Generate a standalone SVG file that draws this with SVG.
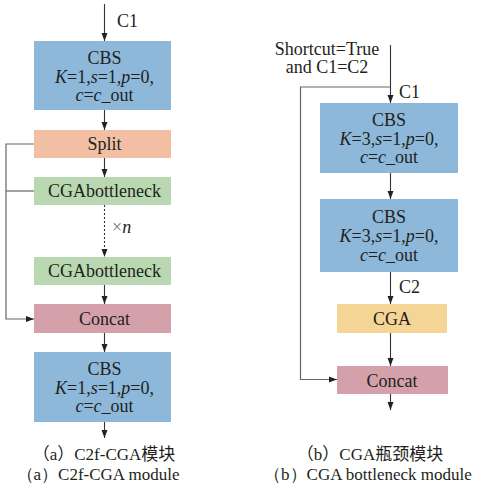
<svg xmlns="http://www.w3.org/2000/svg" width="482" height="488" viewBox="0 0 482 488" font-family="'Liberation Serif', 'Times New Roman', 'DejaVu Serif', serif">
  <style>
    text { fill: #231f20; }
    .t { font-size: 18px; text-anchor: middle; }
    .lbl { font-size: 18px; }
    .cap { font-size: 17px; text-anchor: middle; }
    .it { font-style: italic; }
    .cbs { fill: #8db8da; }
    .split { fill: #f2bfa4; }
    .bott { fill: #b9d7b1; }
    .cat { fill: #d4a1ab; }
    .cga { fill: #f5d595; }
    .ln { stroke: #333; stroke-width: 1.1; fill: none; }
    .side { stroke: #666; stroke-width: 1.2; fill: none; }
    .dot { stroke: #333; stroke-width: 1.1; fill: none; stroke-dasharray: 2 2; }
  </style>
  <defs>
    <marker id="arr" viewBox="0 0 8 8" refX="8" refY="4" markerWidth="8" markerHeight="8" markerUnits="userSpaceOnUse" orient="auto">
      <path d="M0,1 L8,4 L0,7 Z" fill="#222"/>
    </marker>
  </defs>

  <!-- connectors -->
  <g id="connectors">
    <!-- left module -->
    <line class="ln" x1="104.5" y1="4" x2="104.5" y2="41" marker-end="url(#arr)"/>
    <line class="ln" x1="104.5" y1="110" x2="104.5" y2="130" marker-end="url(#arr)"/>
    <line class="ln" x1="104.5" y1="158" x2="104.5" y2="177" marker-end="url(#arr)"/>
    <line class="dot" x1="104.5" y1="205" x2="104.5" y2="257" marker-end="url(#arr)"/>
    <line class="ln" x1="104.5" y1="285" x2="104.5" y2="304" marker-end="url(#arr)"/>
    <line class="ln" x1="104.5" y1="333" x2="104.5" y2="352" marker-end="url(#arr)"/>
    <line class="ln" x1="104.5" y1="422" x2="104.5" y2="438" marker-end="url(#arr)"/>
    <polyline class="side" points="34,144 6,144 6,319 34,319" marker-end="url(#arr)"/>
    <line class="side" x1="34" y1="191" x2="6" y2="191"/>
    <!-- right module -->
    <line class="ln" x1="390.5" y1="45" x2="390.5" y2="103" marker-end="url(#arr)"/>
    <line class="ln" x1="390.5" y1="173" x2="390.5" y2="199" marker-end="url(#arr)"/>
    <line class="ln" x1="390.5" y1="272" x2="390.5" y2="304" marker-end="url(#arr)"/>
    <line class="ln" x1="390.5" y1="333" x2="390.5" y2="366" marker-end="url(#arr)"/>
    <line class="ln" x1="390.5" y1="394" x2="390.5" y2="410" marker-end="url(#arr)"/>
    <polyline class="side" points="390.5,87 300.5,87 300.5,379.5 337,379.5" marker-end="url(#arr)"/>
  </g>

  <!-- edge labels -->
  <text class="lbl" x="117" y="27">C1</text>
  <text class="lbl" x="112" y="233" font-size="16"><tspan fill="#777">×</tspan><tspan class="it">n</tspan></text>
  <text class="t" x="327" y="55">Shortcut=True</text>
  <text class="t" x="327" y="73">and C1=C2</text>
  <text class="lbl" x="399" y="98">C1</text>
  <text class="lbl" x="399" y="293">C2</text>

  <!-- left module nodes -->
  <g id="cbs-a1">
    <rect class="cbs" x="34" y="41" width="137" height="69"/>
    <text class="t" x="104.5" y="64">CBS</text>
    <text class="t" x="104.5" y="83"><tspan class="it">K</tspan>=1,<tspan class="it">s</tspan>=1,<tspan class="it">p</tspan>=0,</text>
    <text class="t" x="104.5" y="101"><tspan class="it">c</tspan>=<tspan class="it">c</tspan>_out</text>
  </g>
  <g id="split">
    <rect class="split" x="34" y="130" width="137" height="28"/>
    <text class="t" x="104.5" y="150">Split</text>
  </g>
  <g id="bottleneck-1">
    <rect class="bott" x="34" y="177" width="137" height="28"/>
    <text class="t" x="104.5" y="197">CGAbottleneck</text>
  </g>
  <g id="bottleneck-n">
    <rect class="bott" x="34" y="257" width="137" height="28"/>
    <text class="t" x="104.5" y="277">CGAbottleneck</text>
  </g>
  <g id="concat-a">
    <rect class="cat" x="34" y="304" width="137" height="29"/>
    <text class="t" x="104.5" y="325">Concat</text>
  </g>
  <g id="cbs-a2">
    <rect class="cbs" x="34" y="352" width="137" height="70"/>
    <text class="t" x="104.5" y="375">CBS</text>
    <text class="t" x="104.5" y="394"><tspan class="it">K</tspan>=1,<tspan class="it">s</tspan>=1,<tspan class="it">p</tspan>=0,</text>
    <text class="t" x="104.5" y="412"><tspan class="it">c</tspan>=<tspan class="it">c</tspan>_out</text>
  </g>

  <!-- right module nodes -->
  <g id="cbs-b1">
    <rect class="cbs" x="320" y="103" width="138" height="70"/>
    <text class="t" x="389" y="126">CBS</text>
    <text class="t" x="389" y="145"><tspan class="it">K</tspan>=3,<tspan class="it">s</tspan>=1,<tspan class="it">p</tspan>=0,</text>
    <text class="t" x="389" y="163"><tspan class="it">c</tspan>=<tspan class="it">c</tspan>_out</text>
  </g>
  <g id="cbs-b2">
    <rect class="cbs" x="320" y="199" width="138" height="73"/>
    <text class="t" x="389" y="223">CBS</text>
    <text class="t" x="389" y="242"><tspan class="it">K</tspan>=3,<tspan class="it">s</tspan>=1,<tspan class="it">p</tspan>=0,</text>
    <text class="t" x="389" y="261"><tspan class="it">c</tspan>=<tspan class="it">c</tspan>_out</text>
  </g>
  <g id="cga">
    <rect class="cga" x="337" y="304" width="110" height="29"/>
    <text class="t" x="392" y="325">CGA</text>
  </g>
  <g id="concat-b">
    <rect class="cat" x="337" y="366" width="111" height="28"/>
    <text class="t" x="392" y="387">Concat</text>
  </g>

  <!-- captions -->
  <text class="cap" x="104" y="460" font-family="'Liberation Serif', 'Noto Sans CJK SC', serif">（a）C2f-CGA模块</text>
  <text class="cap" x="98" y="480">（a）C2f-CGA module</text>
  <text class="cap" x="370" y="460" font-family="'Liberation Serif', 'Noto Sans CJK SC', serif">（b）CGA瓶颈模块</text>
  <text class="cap" x="368" y="480">（b）CGA bottleneck module</text>
</svg>
